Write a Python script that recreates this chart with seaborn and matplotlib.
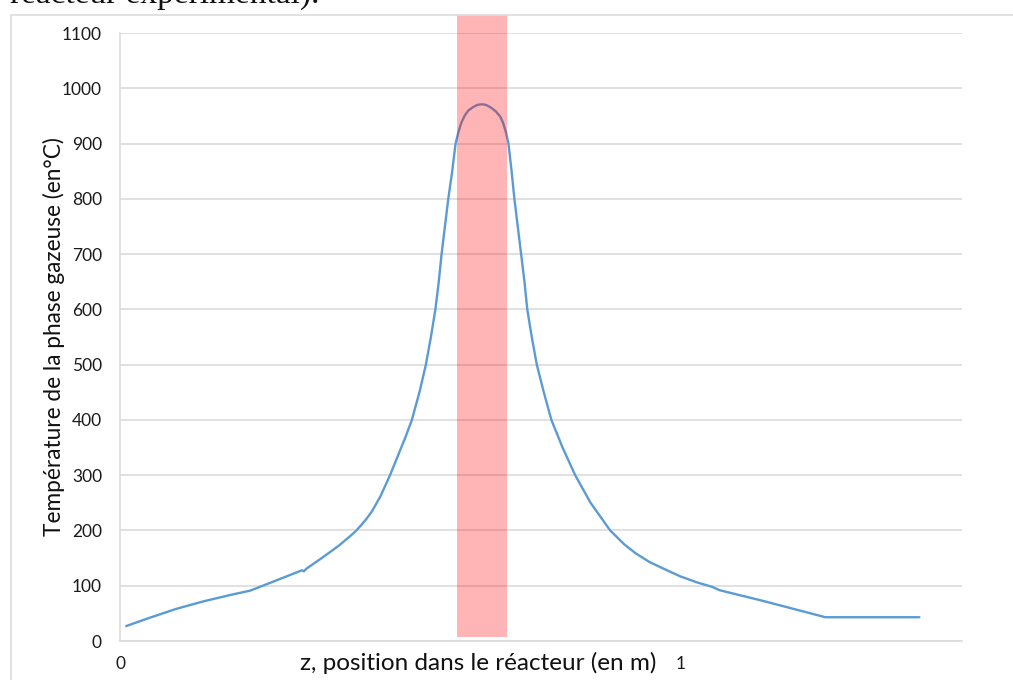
import matplotlib
matplotlib.use("Agg")
import matplotlib.pyplot as plt
from matplotlib.patches import Rectangle
from matplotlib.ticker import FixedFormatter, FixedLocator
import seaborn as sns
import pandas as pd

# Gas-phase temperature profile along the reactor
z_m = [0.011, 0.05, 0.10, 0.15, 0.20, 0.232, 0.26, 0.30, 0.325, 0.328, 0.333,
       0.36, 0.39, 0.41, 0.42, 0.43, 0.44, 0.45, 0.465, 0.482, 0.50, 0.51,
       0.521, 0.535, 0.546, 0.555, 0.563, 0.569, 0.574, 0.58, 0.586, 0.593,
       0.599, 0.6036, 0.609, 0.6155, 0.622, 0.6304, 0.638, 0.6459, 0.653,
       0.6607, 0.670, 0.6786, 0.684, 0.6893, 0.6934, 0.699, 0.704, 0.710,
       0.716, 0.722, 0.727, 0.735, 0.744, 0.756, 0.770, 0.79, 0.8125, 0.84,
       0.875, 0.90, 0.92, 0.945, 0.97, 1.00, 1.03, 1.057, 1.07, 1.15, 1.259,
       1.427]
temp_c = [27, 41, 58, 72, 84, 91, 102, 118, 128, 126, 131,
          150, 172, 189, 198, 209, 221, 235, 262, 300, 345, 370,
          400, 452, 500, 550, 600, 650, 700, 750, 800, 850,
          900, 919, 937, 951, 960, 966, 970, 971, 970,
          966, 959, 949, 937, 919, 900, 850, 800, 750,
          700, 650, 600, 550, 500, 452, 400, 350, 300, 250,
          200, 175, 159, 143, 131, 117, 106, 98, 92, 72, 43,
          43]

# Highlighted zone (hot zone of the reactor)
zone_z = [0.602, 0.691]
zone_t = [7, 1132]

y_ticks = list(range(0, 1101, 100))
x_tick_labels = {0.0: "0", 1.0: "1"}

sns.set_theme(style="white")
plt.rcParams["font.family"] = ["Lato", "DejaVu Sans"]

fig = plt.figure(figsize=(10.13, 6.8), dpi=100)
ax = fig.add_axes([120 / 1013, 1 - 641 / 680, 842 / 1013, 608 / 680])

df = pd.DataFrame({"z": z_m, "T": temp_c})
sns.lineplot(data=df, x="z", y="T", sort=False, estimator=None,
             color="#5b9bd5", linewidth=1.7, ax=ax)

ax.add_patch(Rectangle((zone_z[0], zone_t[0]), zone_z[1] - zone_z[0],
                       zone_t[1] - zone_t[0], facecolor="#ff0000",
                       alpha=0.29, edgecolor="none", clip_on=False, zorder=3))

ax.set_xlim(0, 1.503)
ax.set_ylim(0, 1100)
ax.set_yticks(y_ticks)
ax.set_yticklabels([str(v) for v in y_ticks])
ax.yaxis.grid(True, color="#d9d9d9", linewidth=1.1)
ax.xaxis.grid(False)

xt = [round(i * 0.1, 1) for i in range(16)]
ax.xaxis.set_major_locator(FixedLocator(xt))
ax.xaxis.set_major_formatter(FixedFormatter([x_tick_labels.get(v, "") for v in xt]))
ax.tick_params(axis="x", direction="out", length=4, width=1, color="#d0d0d0",
               labelsize=12.5, labelcolor="#1a1a1a", pad=7)
ax.tick_params(axis="y", length=0, labelsize=12.5, labelcolor="#1a1a1a", pad=13)

for side in ["top", "right"]:
    ax.spines[side].set_visible(False)
for side in ["left", "bottom"]:
    ax.spines[side].set_color("#d9d9d9")
    ax.spines[side].set_linewidth(1.1)

ax.set_xlabel("")
ax.set_ylabel("Température de la phase gazeuse (en°C)", fontsize=16.3,
              color="#111111")
ax.yaxis.set_label_coords(-55 / 842, 0.5)

fig.text(478 / 1013, 1 - 663 / 680, "z, position dans le réacteur (en m)",
         ha="center", va="center", fontsize=17.5, color="#111111")

# Outer chart frame
fig.patches.append(Rectangle((11 / 1013, -0.05), 1.2, 1 - 15 / 680 + 0.05,
                             transform=fig.transFigure, facecolor="none",
                             edgecolor="#dcdcdc", linewidth=1.2, zorder=0))

# Tail of the preceding document line
fig.text(10 / 1013, 1 - 3 / 680, "réacteur expérimental).", ha="left",
         va="baseline", fontsize=24, family=["Liberation Serif"],
         color="#111111")

fig.savefig("out.png", dpi=100)
